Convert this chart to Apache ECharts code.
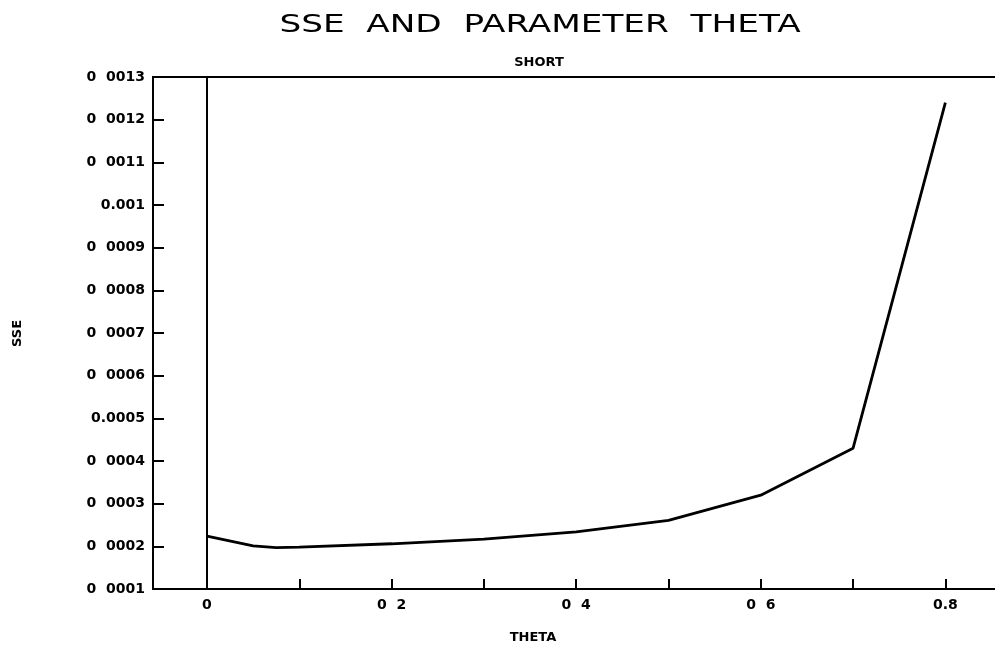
<!DOCTYPE html>
<html>
<head>
<meta charset="utf-8">
<script src="https://cdn.jsdelivr.net/npm/echarts@6/dist/echarts.min.js"></script>
<style>html,body{margin:0;padding:0;background:#fff;overflow:hidden;width:995px;height:647px;}#c{width:1010px;height:647px;}</style>
</head>
<body>
<div id="c"></div>
<script>
// data
var theta = [0, 0.05, 0.075, 0.1, 0.2, 0.3, 0.4, 0.5, 0.6, 0.7, 0.8];
var sse = [0.000224, 0.000201, 0.000197, 0.000198, 0.000206, 0.000217, 0.000234, 0.000261, 0.00032, 0.00043, 0.00124];
var xTickValues = [0, 0.2, 0.4, 0.6, 0.8];
var xTickLabels = ['0', '0  2', '0  4', '0  6', '0.8'];
var xMinorTicks = [0.1, 0.2, 0.3, 0.4, 0.5, 0.6, 0.7, 0.8];
var yTickValues = [0.0001, 0.0002, 0.0003, 0.0004, 0.0005, 0.0006, 0.0007, 0.0008, 0.0009, 0.001, 0.0011, 0.0012, 0.0013];
var yTickLabels = ['0  0001', '0  0002', '0  0003', '0  0004', '0.0005', '0  0006', '0  0007', '0  0008', '0  0009', '0.001', '0  0011', '0  0012', '0  0013'];

var chart = echarts.init(document.getElementById('c'), null, {renderer: 'canvas'});
var labelFont = {color: '#000', fontFamily: 'DejaVu Sans', fontWeight: 'bold', fontSize: 14};
var option = {
  backgroundColor: '#fff',
  animation: false,
  graphic: [
    {type: 'text', x: 540, y: 13, scaleX: 1.37,
     style: {text: 'SSE  AND  PARAMETER  THETA', fill: '#000', font: 'normal 25px "DejaVu Sans"', textAlign: 'center', textVerticalAlign: 'top'}},
    {type: 'text', x: 539, y: 56,
     style: {text: 'SHORT', fill: '#000', font: 'bold 13px "DejaVu Sans"', textAlign: 'center', textVerticalAlign: 'top'}},
    {type: 'text', x: 11, y: 347, rotation: Math.PI / 2,
     style: {text: 'SSE', fill: '#000', font: 'bold 13px "DejaVu Sans"', textAlign: 'left', textVerticalAlign: 'top'}},
    {type: 'text', x: 533, y: 631,
     style: {text: 'THETA', fill: '#000', font: 'bold 13px "DejaVu Sans"', textAlign: 'center', textVerticalAlign: 'top'}}
  ],
  grid: {left: 153, right: 5, top: 77, bottom: 58, show: true, borderColor: '#000', borderWidth: 2, backgroundColor: 'transparent'},
  xAxis: {
    type: 'value', min: -0.0585, max: 0.8646,
    axisLine: {show: true, onZero: false, lineStyle: {color: '#000', width: 2}},
    axisTick: {show: true, inside: true, length: 10, customValues: xMinorTicks, lineStyle: {color: '#000', width: 2}},
    axisLabel: Object.assign({margin: 9, customValues: xTickValues,
      formatter: function (v) { var i = xTickValues.findIndex(function (t) { return Math.abs(t - v) < 1e-9; }); return i >= 0 ? xTickLabels[i] : ''; }}, labelFont),
    splitLine: {show: false}
  },
  yAxis: {
    type: 'value', min: 0.0001, max: 0.0013,
    axisLine: {show: true, onZero: false, lineStyle: {color: '#000', width: 2}},
    axisTick: {show: true, inside: true, length: 11, customValues: yTickValues.slice(0, 12), lineStyle: {color: '#000', width: 2}},
    axisLabel: Object.assign({margin: 8, customValues: yTickValues,
      formatter: function (v) { var i = yTickValues.findIndex(function (t) { return Math.abs(t - v) < 1e-12; }); return i >= 0 ? yTickLabels[i] : ''; }}, labelFont),
    splitLine: {show: false}
  },
  series: [{
    type: 'line',
    data: theta.map(function (t, i) { return [t, sse[i]]; }),
    showSymbol: false,
    lineStyle: {color: '#000', width: 2.8},
    markLine: {
      silent: true, symbol: ['none', 'none'], label: {show: false},
      lineStyle: {color: '#000', width: 2, type: 'solid'},
      data: [{xAxis: 0}]
    }
  }]
};
chart.setOption(option);
</script>
</body>
</html>
